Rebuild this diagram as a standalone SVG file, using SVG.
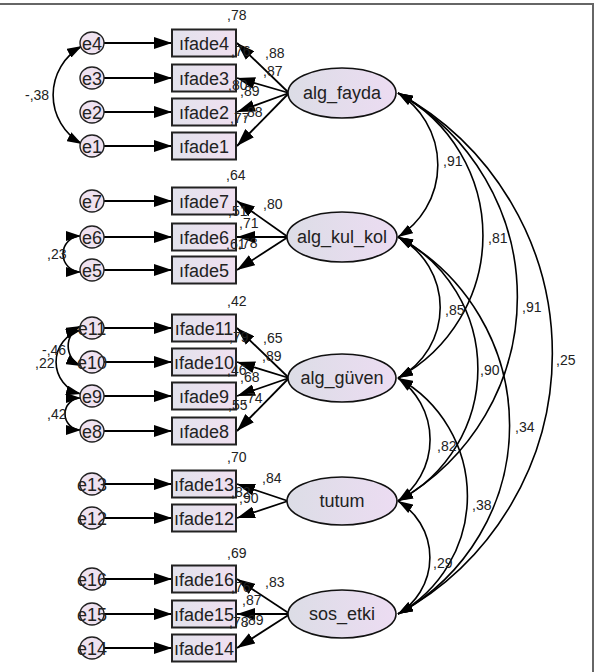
<svg xmlns="http://www.w3.org/2000/svg" width="595" height="672" viewBox="0 0 595 672">
<defs>
<linearGradient id="gE" x1="0" y1="0" x2="1" y2="0"><stop offset="0" stop-color="#dcdde6"/><stop offset="1" stop-color="#ecdcf2"/></linearGradient>
<linearGradient id="gB" x1="0" y1="0" x2="1" y2="0"><stop offset="0" stop-color="#e2e2ec"/><stop offset="1" stop-color="#f0e0f0"/></linearGradient>
<marker id="ah" viewBox="0 0 18 12" refX="18" refY="6" markerWidth="18" markerHeight="12" markerUnits="userSpaceOnUse" orient="auto-start-reverse"><path d="M0,0 L18,6 L0,12 z" fill="#000"/></marker>
<marker id="ac" viewBox="0 0 15 10" refX="15" refY="5" markerWidth="15" markerHeight="10" markerUnits="userSpaceOnUse" orient="auto-start-reverse"><path d="M0,0 L15,5 L0,10 z" fill="#000"/></marker>
<style>
.box{fill:url(#gB);stroke:#222;stroke-width:2}
.lat{fill:url(#gE);stroke:#111;stroke-width:1.6}
.err{fill:#efe2f0;stroke:#222;stroke-width:1.4}
.t{font-family:"Liberation Sans",Arial,sans-serif;font-size:18px;fill:#222;text-anchor:middle}
.n{font-family:"Liberation Sans",Arial,sans-serif;font-size:14px;fill:#222}
.c line{stroke:#000;stroke-width:1.8;marker-end:url(#ah)}
.c path{fill:none;stroke:#000;stroke-width:1.6;marker-start:url(#ac);marker-end:url(#ac)}
</style>
</defs>
<rect width="595" height="672" fill="#fff"/>
<path d="M0,4 H593 V672" fill="none" stroke="#666" stroke-width="2"/>

<g id="connectors" class="c">
<!-- error to indicator -->
<line x1="104" y1="43" x2="172" y2="43"/>
<line x1="104" y1="78" x2="172" y2="78"/>
<line x1="104" y1="112" x2="172" y2="112"/>
<line x1="104" y1="146" x2="172" y2="146"/>
<line x1="104" y1="201" x2="172" y2="201"/>
<line x1="104" y1="237" x2="172" y2="237"/>
<line x1="104" y1="270" x2="172" y2="270"/>
<line x1="104" y1="328" x2="172" y2="328"/>
<line x1="104" y1="362" x2="172" y2="362"/>
<line x1="104" y1="396" x2="172" y2="396"/>
<line x1="104" y1="431" x2="172" y2="431"/>
<line x1="104" y1="484" x2="172" y2="484"/>
<line x1="104" y1="518" x2="172" y2="518"/>
<line x1="104" y1="579" x2="172" y2="579"/>
<line x1="104" y1="614" x2="172" y2="614"/>
<line x1="104" y1="648" x2="172" y2="648"/>
<!-- loadings -->
<line x1="289" y1="93" x2="237" y2="43"/>
<line x1="289" y1="93" x2="237" y2="78"/>
<line x1="289" y1="93" x2="237" y2="112"/>
<line x1="289" y1="93" x2="237" y2="146"/>
<line x1="288" y1="237" x2="237" y2="201"/>
<line x1="288" y1="237" x2="237" y2="237"/>
<line x1="288" y1="237" x2="237" y2="270"/>
<line x1="289" y1="378" x2="237" y2="328"/>
<line x1="289" y1="378" x2="237" y2="362"/>
<line x1="289" y1="378" x2="237" y2="396"/>
<line x1="289" y1="378" x2="237" y2="431"/>
<line x1="288" y1="501" x2="237" y2="484"/>
<line x1="288" y1="501" x2="237" y2="518"/>
<line x1="290" y1="614" x2="237" y2="579"/>
<line x1="290" y1="614" x2="237" y2="614"/>
<line x1="290" y1="614" x2="237" y2="648"/>
<!-- latent covariances -->
<path d="M398,93 A85,85 0 0 1 398,237"/>
<path d="M398,93 A162,162 0 0 1 398,378"/>
<path d="M398,93 A234,234 0 0 1 398,501"/>
<path d="M398,93 A297,297 0 0 1 398,614"/>
<path d="M398,237 A80,80 0 0 1 398,378"/>
<path d="M398,237 A149,149 0 0 1 398,501"/>
<path d="M398,237 A215,215 0 0 1 398,614"/>
<path d="M398,378 A75,75 0 0 1 398,501"/>
<path d="M398,378 A135,135 0 0 1 398,614"/>
<path d="M398,501 A66,66 0 0 1 398,614"/>
<!-- error covariances -->
<path d="M82,46 A56,56 0 0 0 82,144"/>
<path d="M81,236 A18,18 0 0 0 81,272"/>
<path d="M81,326 A22,22 0 0 0 81,366"/>
<path d="M81,330 A33,33 0 0 0 81,394"/>
<path d="M81,398 A16,16 0 0 0 81,430"/>
</g>

<g id="alg_fayda"><ellipse class="lat" cx="342" cy="93" rx="54" ry="25"/><text class="t" x="342" y="99">alg_fayda</text></g>
<g id="alg_kul_kol"><ellipse class="lat" cx="342" cy="237" rx="55" ry="25"/><text class="t" x="342" y="243">alg_kul_kol</text></g>
<g id="alg_guven"><ellipse class="lat" cx="342" cy="378" rx="54" ry="24"/><text class="t" x="342" y="384">alg_güven</text></g>
<g id="tutum"><ellipse class="lat" cx="342" cy="501" rx="55" ry="24"/><text class="t" x="342" y="507">tutum</text></g>
<g id="sos_etki"><ellipse class="lat" cx="342" cy="614" rx="54" ry="24"/><text class="t" x="342" y="620">sos_etki</text></g>

<g id="ifade4"><rect class="box" x="172" y="29.5" width="64" height="27"/><text class="t" x="204" y="49.5">ıfade4</text></g>
<g id="ifade3"><rect class="box" x="172" y="64.5" width="64" height="27"/><text class="t" x="204" y="84.5">ıfade3</text></g>
<g id="ifade2"><rect class="box" x="172" y="98.5" width="64" height="27"/><text class="t" x="204" y="118.5">ıfade2</text></g>
<g id="ifade1"><rect class="box" x="172" y="132.5" width="64" height="27"/><text class="t" x="204" y="152.5">ıfade1</text></g>
<g id="ifade7"><rect class="box" x="172" y="187.5" width="64" height="27"/><text class="t" x="204" y="207.5">ıfade7</text></g>
<g id="ifade6"><rect class="box" x="172" y="223.5" width="64" height="27"/><text class="t" x="204" y="243.5">ıfade6</text></g>
<g id="ifade5"><rect class="box" x="172" y="256.5" width="64" height="27"/><text class="t" x="204" y="276.5">ıfade5</text></g>
<g id="ifade11"><rect class="box" x="172" y="314.5" width="64" height="27"/><text class="t" x="204" y="334.5">ıfade11</text></g>
<g id="ifade10"><rect class="box" x="172" y="348.5" width="64" height="27"/><text class="t" x="204" y="368.5">ıfade10</text></g>
<g id="ifade9"><rect class="box" x="172" y="382.5" width="64" height="27"/><text class="t" x="204" y="402.5">ıfade9</text></g>
<g id="ifade8"><rect class="box" x="172" y="417.5" width="64" height="27"/><text class="t" x="204" y="437.5">ıfade8</text></g>
<g id="ifade13"><rect class="box" x="172" y="470.5" width="64" height="27"/><text class="t" x="204" y="490.5">ıfade13</text></g>
<g id="ifade12"><rect class="box" x="172" y="504.5" width="64" height="27"/><text class="t" x="204" y="524.5">ıfade12</text></g>
<g id="ifade16"><rect class="box" x="172" y="565.5" width="64" height="27"/><text class="t" x="204" y="585.5">ıfade16</text></g>
<g id="ifade15"><rect class="box" x="172" y="600.5" width="64" height="27"/><text class="t" x="204" y="620.5">ıfade15</text></g>
<g id="ifade14"><rect class="box" x="172" y="634.5" width="64" height="27"/><text class="t" x="204" y="654.5">ıfade14</text></g>

<g id="e4"><ellipse class="err" cx="92" cy="43" rx="12" ry="11"/><text class="t" x="92" y="49.5">e4</text></g>
<g id="e3"><ellipse class="err" cx="92" cy="78" rx="12" ry="11"/><text class="t" x="92" y="84.5">e3</text></g>
<g id="e2"><ellipse class="err" cx="92" cy="112" rx="12" ry="11"/><text class="t" x="92" y="118.5">e2</text></g>
<g id="e1"><ellipse class="err" cx="92" cy="146" rx="12" ry="11"/><text class="t" x="92" y="152.5">e1</text></g>
<g id="e7"><ellipse class="err" cx="92" cy="201" rx="12" ry="11"/><text class="t" x="92" y="207.5">e7</text></g>
<g id="e6"><ellipse class="err" cx="92" cy="237" rx="12" ry="11"/><text class="t" x="92" y="243.5">e6</text></g>
<g id="e5"><ellipse class="err" cx="92" cy="270" rx="12" ry="11"/><text class="t" x="92" y="276.5">e5</text></g>
<g id="e11"><ellipse class="err" cx="92" cy="328" rx="12" ry="11"/><text class="t" x="92" y="334.5">e11</text></g>
<g id="e10"><ellipse class="err" cx="92" cy="362" rx="12" ry="11"/><text class="t" x="92" y="368.5">e10</text></g>
<g id="e9"><ellipse class="err" cx="92" cy="396" rx="12" ry="11"/><text class="t" x="92" y="402.5">e9</text></g>
<g id="e8"><ellipse class="err" cx="92" cy="431" rx="12" ry="11"/><text class="t" x="92" y="437.5">e8</text></g>
<g id="e13"><ellipse class="err" cx="92" cy="484" rx="12" ry="11"/><text class="t" x="92" y="490.5">e13</text></g>
<g id="e12"><ellipse class="err" cx="92" cy="518" rx="12" ry="11"/><text class="t" x="92" y="524.5">e12</text></g>
<g id="e16"><ellipse class="err" cx="92" cy="579" rx="12" ry="11"/><text class="t" x="92" y="585.5">e16</text></g>
<g id="e15"><ellipse class="err" cx="92" cy="614" rx="12" ry="11"/><text class="t" x="92" y="620.5">e15</text></g>
<g id="e14"><ellipse class="err" cx="92" cy="648" rx="12" ry="11"/><text class="t" x="92" y="654.5">e14</text></g>

<g id="labels" class="n">
<text class="n" x="227" y="20">,78</text>
<text class="n" x="231" y="56">,76</text>
<text class="n" x="228" y="90">,80</text>
<text class="n" x="230" y="123">,77</text>
<text class="n" x="265" y="58">,88</text>
<text class="n" x="263" y="76">,87</text>
<text class="n" x="240" y="96">,89</text>
<text class="n" x="243" y="117">,88</text>
<text class="n" x="226" y="180">,64</text>
<text class="n" x="263" y="209">,80</text>
<text class="n" x="228" y="216">,51</text>
<text class="n" x="239" y="228">,71</text>
<text class="n" x="226" y="249">,61</text>
<text class="n" x="238" y="248">,78</text>
<text class="n" x="227" y="306">,42</text>
<text class="n" x="229" y="342">,79</text>
<text class="n" x="263" y="343">,65</text>
<text class="n" x="262" y="361">,89</text>
<text class="n" x="227" y="375">,46</text>
<text class="n" x="240" y="382">,68</text>
<text class="n" x="243" y="403">,74</text>
<text class="n" x="228" y="410">,55</text>
<text class="n" x="227" y="462">,70</text>
<text class="n" x="262" y="483">,84</text>
<text class="n" x="231" y="497">,82</text>
<text class="n" x="239" y="503">,90</text>
<text class="n" x="227" y="558">,69</text>
<text class="n" x="265" y="587">,83</text>
<text class="n" x="231" y="592">,76</text>
<text class="n" x="242" y="605">,87</text>
<text class="n" x="229" y="627">,78</text>
<text class="n" x="244" y="625">,89</text>
<text class="n" x="25" y="100">-,38</text>
<text class="n" x="47" y="259">,23</text>
<text class="n" x="42" y="355">-,46</text>
<text class="n" x="35" y="368">,22</text>
<text class="n" x="47" y="419">,42</text>
<text class="n" x="443" y="166">,91</text>
<text class="n" x="488" y="243">,81</text>
<text class="n" x="522" y="312">,91</text>
<text class="n" x="556" y="365">,25</text>
<text class="n" x="445" y="315">,85</text>
<text class="n" x="480" y="375">,90</text>
<text class="n" x="515" y="432">,34</text>
<text class="n" x="437" y="451">,82</text>
<text class="n" x="472" y="510">,38</text>
<text class="n" x="433" y="568">,29</text>
</g>
</svg>
